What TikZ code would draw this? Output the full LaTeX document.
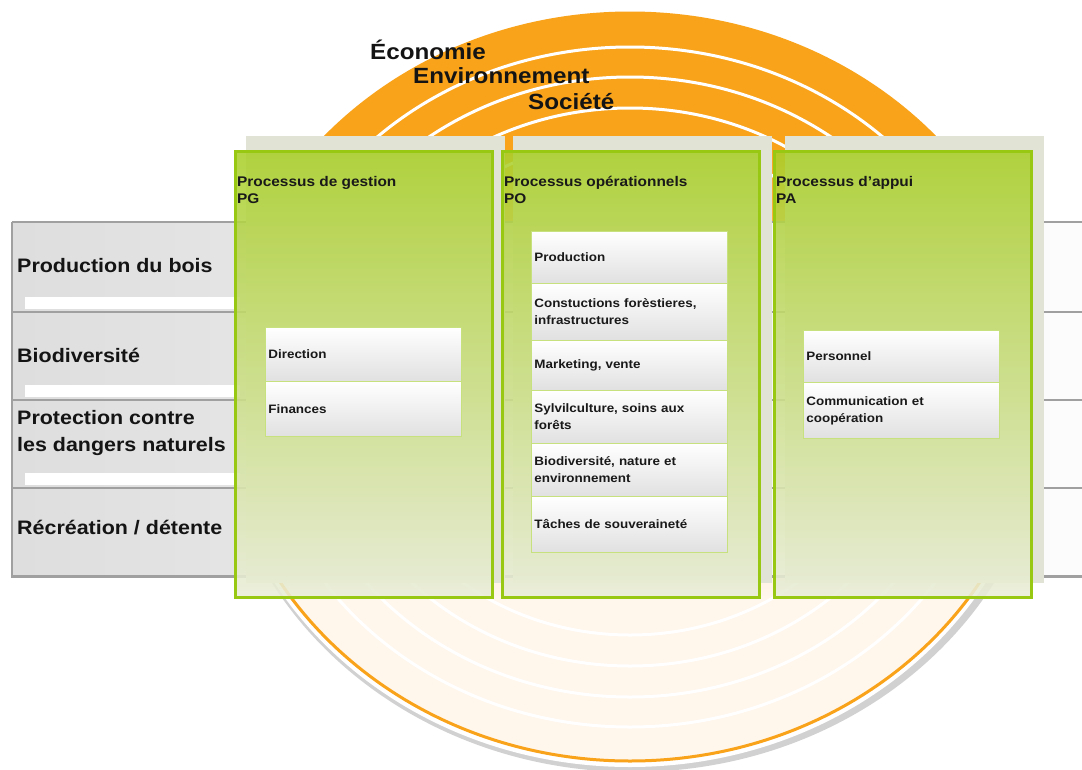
\documentclass[tikz,border=0pt]{standalone}
\usepackage{fontspec}
\setmainfont{Liberation Sans}[FakeStretch=1.1]
\usetikzlibrary{positioning,calc}
\definecolor{orng}{RGB}{249,163,27}
\definecolor{cream}{RGB}{255,246,236}
\definecolor{grn}{RGB}{170,207,42}
\definecolor{grnpale}{RGB}{233,237,216}
\definecolor{grnline}{RGB}{152,200,18}
\definecolor{beige}{RGB}{225,228,213}
\definecolor{rowline}{RGB}{160,160,160}
\pgfdeclareverticalshading{diskshade}{100bp}{color(0bp)=(cream); color(36bp)=(cream); color(66bp)=(orng); color(100bp)=(orng)}
\tikzstyle{rowbox}=[anchor=north west, minimum width=1070pt, inner sep=0pt, left color=black!13, right color=black!1]
\tikzstyle{rowedge}=[draw=rowline, line width=2.2pt]
\tikzstyle{rowlabel}=[font=\bfseries\fontsize{19.5}{27}\selectfont, align=left, inner sep=0pt, anchor=west, text=black!92]
\tikzstyle{backpanel}=[fill=beige, anchor=north west, minimum width=259pt, minimum height=447pt, inner sep=0pt]
\tikzstyle{panel}=[draw=grnline, line width=2.5pt, top color=grn, bottom color=grnpale, fill opacity=0.88, anchor=north west, minimum width=257pt, minimum height=446pt, inner sep=0pt]
\tikzstyle{proctitle}=[font=\bfseries\fontsize{14}{17}\selectfont, align=left, inner sep=0pt, text=black!90]
\tikzstyle{task}=[draw=grnline!55, line width=0.8pt, top color=white, bottom color=black!12, anchor=north west, text width=190pt, align=left, inner xsep=3pt, inner ysep=0pt, font=\bfseries\fontsize{12.2}{17}\selectfont, text=black!90]
\tikzstyle{pillar}=[font=\bfseries\fontsize{22}{26}\selectfont, inner sep=0pt, anchor=base west, text=black!92]
\tikzstyle{ring}=[draw=white, line width=3pt]
\begin{document}
\begin{tikzpicture}[x=1pt, y=-1pt]
    \useasboundingbox (0,0) rectangle (1082,769);
    % The disk with its shadow and rings
    \fill[black!18] (633,396) ellipse [x radius=416pt, y radius=376pt];
    \fill[white] (630,389) ellipse [x radius=414pt, y radius=378pt];
    \shade[shading=diskshade, draw=orng, line width=3pt] (630,387) ellipse [x radius=410pt, y radius=374pt];
    \foreach \a/\b in {373/340, 340/310, 306/279, 272/248}
        \draw[ring] (630,387) ellipse [x radius=\a pt, y radius=\b pt];
    % Rows for the functions of the forest
    \foreach \y/\h/\name in {222/90/r1, 312/88/r2, 400/88/r3, 488/88/r4}
        \node[rowbox, minimum height=\h pt] (\name) at (12,\y) {};
    \foreach \name in {r1, r2, r3}
        \fill[white] ($(\name.south west)+(13,-15)$) rectangle ($(\name.south west)+(228,-3)$);
    \foreach \name in {r1, r2, r3, r4}
        \draw[rowedge] (\name.north west) -- (\name.north east);
    \draw[rowedge] (r1.north west) -- (r4.south west) -- (r4.south east);
    \foreach \pos/\name/\txt in {{(17,266)/l1/Production du bois}, {(17,355)/l2/Biodiversité},
                                 {(17,433)/l3/Protection contre\\les dangers naturels}, {(17,528)/l4/{Récréation / détente}}}
        \node[rowlabel] (\name) at \pos {\txt};
    % Process columns
    \foreach \x/\name in {246/bg, 513/bo, 785/ba}
        \node[backpanel] (\name) at (\x,136) {};
    \foreach \x/\name in {234/pg, 501/po, 773/pa}
        \node[panel] (\name) at (\x,150) {};
    \node[proctitle, below right=26pt and 3pt of pg.north west] (tg) {Processus de gestion\\PG};
    \node[proctitle, below right=26pt and 3pt of po.north west] (to) {Processus opérationnels\\PO};
    \node[proctitle, below right=26pt and 3pt of pa.north west] (ta) {Processus d’appui\\PA};
    % Tasks in each column
    \foreach \y/\h/\name/\txt in {327/54/dir/Direction, 381/55/fin/Finances}
        \node[task, minimum height=\h pt] (\name) at (265,\y) {\txt};
    \foreach \y/\h/\name/\txt in {231/52/prod/Production, 283/57/cons/{Constuctions forèstieres,\\infrastructures},
                                  340/50/mark/{Marketing, vente}, 390/53/sylv/{Sylvilculture, soins aux\\forêts},
                                  443/53/bio/{Biodiversité, nature et\\environnement}, 496/56/tach/Tâches de souveraineté}
        \node[task, minimum height=\h pt] (\name) at (531,\y) {\txt};
    \foreach \y/\h/\name/\txt in {330/52/pers/Personnel, 382/56/comm/{Communication et\\coopération}}
        \node[task, minimum height=\h pt] (\name) at (803,\y) {\txt};
    % The three pillars
    \node[pillar] (eco) at (370,59) {Économie};
    \node[pillar] (env) at (413,83) {Environnement};
    \node[pillar] (soc) at (528,109) {Société};
\end{tikzpicture}
\end{document}
